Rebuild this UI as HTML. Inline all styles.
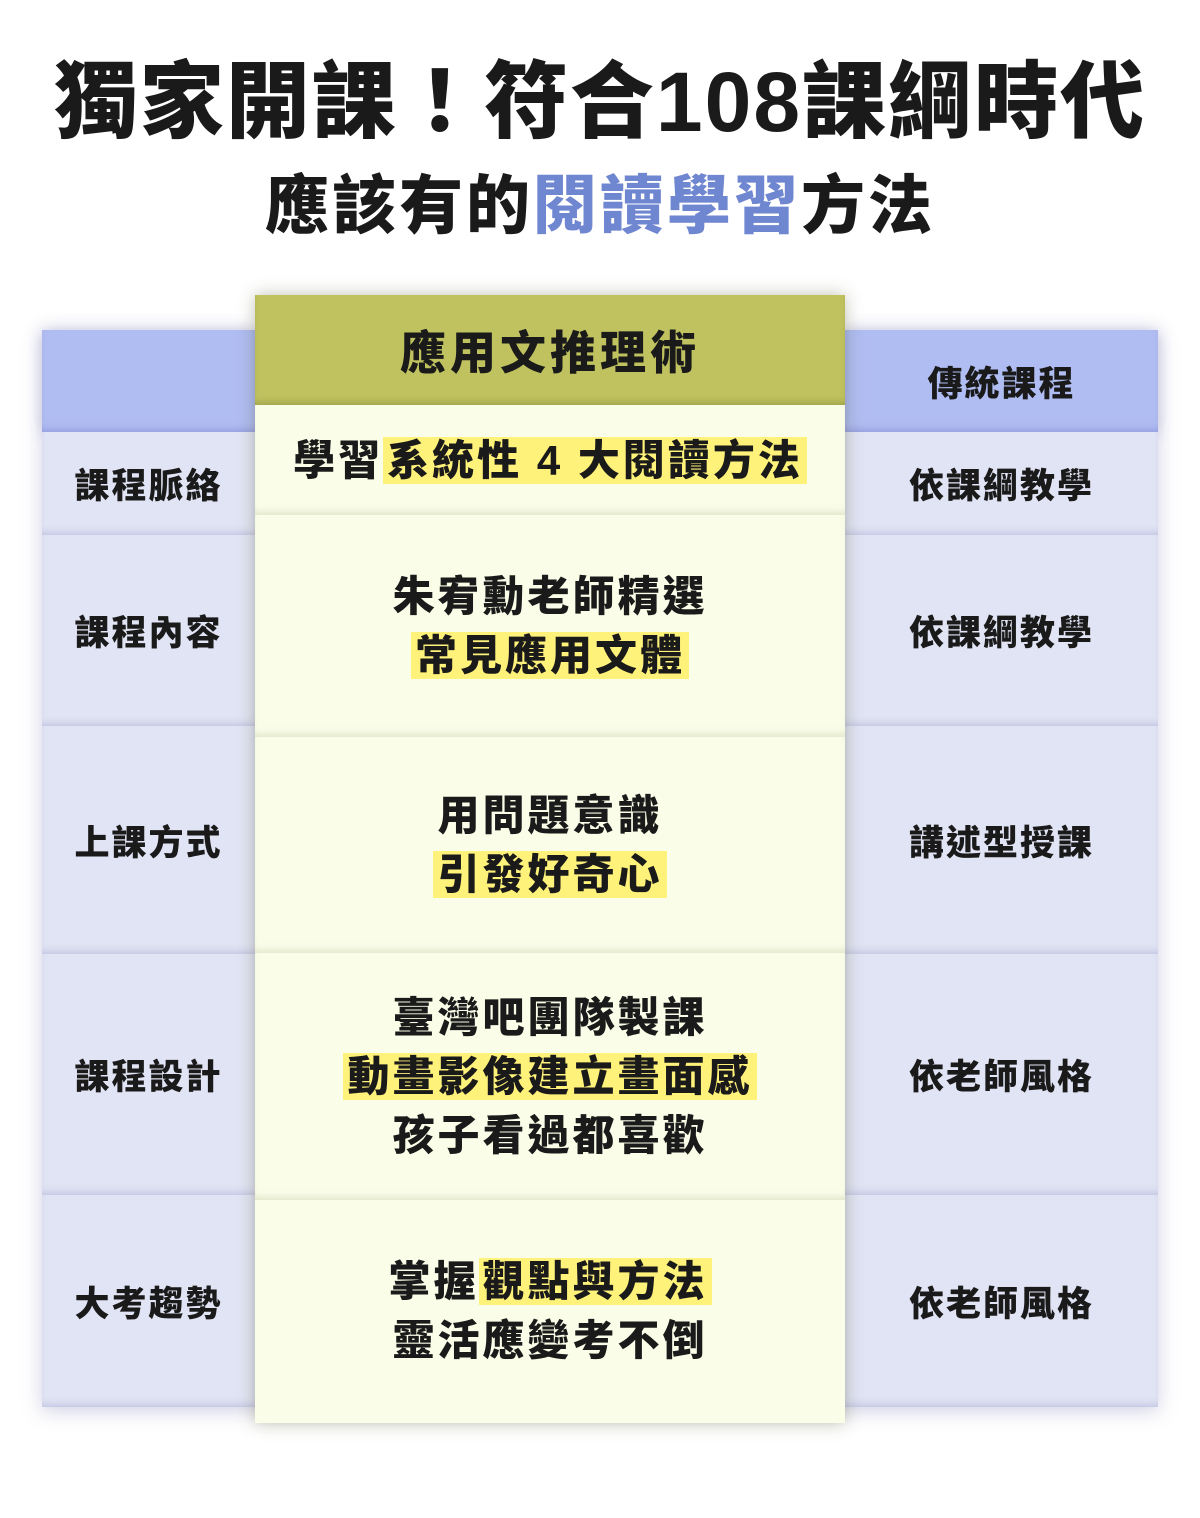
<!DOCTYPE html>
<html><head><meta charset="utf-8">
<style>
*{margin:0;padding:0;box-sizing:border-box}
body{width:1200px;height:1518px;background:#fff;position:relative;overflow:hidden;font-family:"Liberation Sans","Noto Sans CJK TC",sans-serif;font-weight:900;color:#1a1a1a}
.abs{position:absolute}
.t1{left:0;width:1200px;top:52px;text-align:center;font-size:84px;line-height:100px;letter-spacing:2px}
.t2{left:0;width:1200px;top:166px;text-align:center;font-size:64px;line-height:80px;letter-spacing:3px}
.blue{color:#6f86d0}
.cell{position:absolute;display:flex;align-items:center;justify-content:center;text-align:center}
.side{background:#e1e4f4;font-size:35px;letter-spacing:2px;box-shadow:inset 0 -6px 8px -4px rgba(150,150,200,.45)}
.hdr{background:#b0bdf2;box-shadow:0 0 14px rgba(120,120,180,.3), inset 0 -6px 8px -4px rgba(120,120,200,.5)}
.mid{background:#fafde8;font-size:42px;line-height:59px;letter-spacing:3px;box-shadow:inset 0 -6px 8px -4px rgba(170,170,130,.35)}
.hl{background:#fff27a;padding:0 4px}
</style></head><body>
<div class="abs t1">獨家開課！符合108課綱時代</div>
<div class="abs t2">應該有的<span class="blue">閱讀學習</span>方法</div>

<div class="abs" style="left:42px;top:330px;width:1116px;height:1077px;box-shadow:0 4px 18px rgba(120,120,180,.35)"></div>

<div class="cell hdr" style="left:42px;top:330px;width:213px;height:102px"></div>
<div class="cell hdr" style="left:845px;top:330px;width:313px;height:102px;font-size:35px;letter-spacing:2px">傳統課程</div>

<div class="cell side" style="left:42px;top:432px;width:213px;height:103px">課程脈絡</div>
<div class="cell side" style="left:42px;top:535px;width:213px;height:191px">課程內容</div>
<div class="cell side" style="left:42px;top:726px;width:213px;height:228px">上課方式</div>
<div class="cell side" style="left:42px;top:954px;width:213px;height:241px">課程設計</div>
<div class="cell side" style="left:42px;top:1195px;width:213px;height:212px">大考趨勢</div>

<div class="cell side" style="left:845px;top:432px;width:313px;height:103px">依課綱教學</div>
<div class="cell side" style="left:845px;top:535px;width:313px;height:191px">依課綱教學</div>
<div class="cell side" style="left:845px;top:726px;width:313px;height:228px">講述型授課</div>
<div class="cell side" style="left:845px;top:954px;width:313px;height:241px">依老師風格</div>
<div class="cell side" style="left:845px;top:1195px;width:313px;height:212px">依老師風格</div>

<div class="abs" style="left:255px;top:295px;width:590px;height:1128px;box-shadow:0 0 16px rgba(80,80,40,.35)"></div>
<div class="cell" style="left:255px;top:295px;width:590px;height:110px;background:#bfc25f;font-size:46px;letter-spacing:4px;box-shadow:inset 0 -6px 8px -4px rgba(90,90,30,.35)">應用文推理術</div>
<div class="cell mid" style="left:255px;top:405px;width:590px;height:110px;padding-bottom:0"><div>學習<span class="hl">系統性 4 大閱讀方法</span></div></div>
<div class="cell mid" style="left:255px;top:515px;width:590px;height:222px"><div>朱宥勳老師精選<br><span class="hl">常見應用文體</span></div></div>
<div class="cell mid" style="left:255px;top:737px;width:590px;height:216px"><div>用問題意識<br><span class="hl">引發好奇心</span></div></div>
<div class="cell mid" style="left:255px;top:953px;width:590px;height:247px"><div>臺灣吧團隊製課<br><span class="hl">動畫影像建立畫面感</span><br>孩子看過都喜歡</div></div>
<div class="cell mid" style="left:255px;top:1200px;width:590px;height:223px;box-shadow:none;padding-bottom:2px"><div>掌握<span class="hl">觀點與方法</span><br>靈活應變考不倒</div></div>
</body></html>
